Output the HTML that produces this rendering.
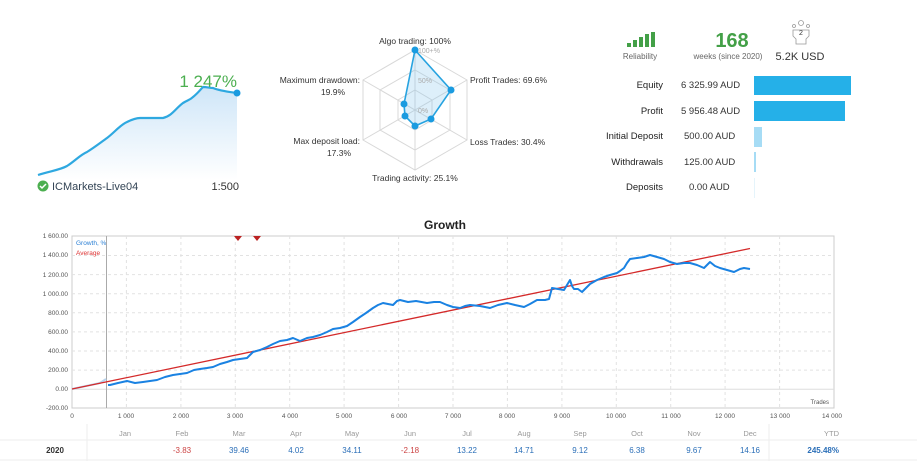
<!DOCTYPE html>
<html><head><meta charset="utf-8"><style>
body{margin:0;width:917px;height:461px;background:#fff;overflow:hidden;font-family:"Liberation Sans","DejaVu Sans",sans-serif;}
svg{position:absolute;left:0;top:0}
</style></head><body>
<svg width="917" height="461" viewBox="0 0 917 461" font-family="Liberation Sans, DejaVu Sans, sans-serif">
<defs><linearGradient id="g1" x1="0" y1="0" x2="0" y2="1"><stop offset="0" stop-color="#cfe6f8"/><stop offset="1" stop-color="#ffffff"/></linearGradient></defs>
<!-- mini chart -->
<path d="M38,175 C50,171 60,170 67,166 C75,161 80,155 87,152 C95,147 100,143 107,138 C115,132 120,125 127,122 C133,119 137,118 140,118 L163,118 C172,116 176,108 183,103 C188,100 190,100 193,97 C198,93 200,90 203,87 C207,87 210,88 213,88 C220,91 230,92 237,93 L237,180 L38,180 Z" fill="url(#g1)"/>
<path d="M38,175 C50,171 60,170 67,166 C75,161 80,155 87,152 C95,147 100,143 107,138 C115,132 120,125 127,122 C133,119 137,118 140,118 L163,118 C172,116 176,108 183,103 C188,100 190,100 193,97 C198,93 200,90 203,87 C207,87 210,88 213,88 C220,91 230,92 237,93" fill="none" stroke="#2ea8e0" stroke-width="2.2"/>
<circle cx="237" cy="93" r="3.5" fill="#1a9be0"/>
<text x="237" y="87" font-size="17" fill="#4caf50" text-anchor="end">1 247%</text>
<circle cx="43" cy="186" r="5.5" fill="#4caf50"/><path d="M40,186 l2,2 l4,-4" stroke="#fff" stroke-width="1.5" fill="none"/>
<text x="52" y="190" font-size="11" fill="#345">ICMarkets-Live04</text>
<text x="239" y="190" font-size="11" fill="#333" text-anchor="end">1:500</text>
<!-- radar -->
<g stroke="#d8d8d8" fill="none" stroke-width="1">
<polygon points="415,50 467,80 467,140 415,170 363,140 363,80"/>
<polygon points="415,70 450,90 450,130 415,150 380,130 380,90"/>
<polygon points="415,90 432,100 432,120 415,130 398,120 398,100"/>
<path d="M415,50V170M363,80L467,140M467,80L363,140"/>
</g>
<polygon points="415,50 451,90 431,119 415,126 405,116 404,104" fill="rgba(120,190,235,0.25)" stroke="#27a3e0" stroke-width="1.6"/>
<g fill="#1a9be0"><circle cx="415" cy="50" r="3.5"/><circle cx="451" cy="90" r="3.5"/><circle cx="431" cy="119" r="3.5"/><circle cx="415" cy="126" r="3.5"/><circle cx="405" cy="116" r="3.5"/><circle cx="404" cy="104" r="3.5"/></g>
<g font-size="7" fill="#aaa"><text x="418" y="53">100+%</text><text x="418" y="83">50%</text><text x="418" y="113">0%</text></g>
<g font-size="8.5" fill="#333">
<text x="415" y="44" text-anchor="middle">Algo trading: 100%</text>
<text x="470" y="83">Profit Trades: 69.6%</text>
<text x="470" y="145">Loss Trades: 30.4%</text>
<text x="415" y="181" text-anchor="middle">Trading activity: 25.1%</text>
<text x="360" y="83" text-anchor="end">Maximum drawdown:</text>
<text x="333" y="95" text-anchor="middle">19.9%</text>
<text x="360" y="144" text-anchor="end">Max deposit load:</text>
<text x="339" y="156" text-anchor="middle">17.3%</text>
</g>
<!-- right panel -->
<g fill="#43a047"><rect x="627" y="43" width="4" height="4"/><rect x="633" y="40" width="4" height="7"/><rect x="639" y="37" width="4" height="10"/><rect x="645" y="34" width="4" height="13"/><rect x="651" y="32" width="4" height="15"/></g>
<text x="640" y="59" font-size="8" fill="#666" text-anchor="middle">Reliability</text>
<text x="732" y="47" font-size="20" font-weight="bold" fill="#43a047" text-anchor="middle">168</text>
<text x="728" y="59" font-size="8" fill="#666" text-anchor="middle">weeks (since 2020)</text>
<g stroke="#999" fill="none" stroke-width="0.8"><circle cx="801" cy="23" r="2.5"/><circle cx="794" cy="26" r="1.5"/><circle cx="808" cy="26" r="1.5"/><path d="M793,30 h16 v6 l-3,3 v5 h-10 v-5 l-3,-3z"/></g>
<text x="801" y="35" font-size="7" fill="#333" text-anchor="middle">2</text>
<text x="800" y="60" font-size="11" fill="#333" text-anchor="middle">5.2K USD</text>
<g font-size="9.5" fill="#222" text-anchor="end">
<text x="663" y="88">Equity</text><text x="663" y="114">Profit</text><text x="663" y="139">Initial Deposit</text><text x="663" y="165">Withdrawals</text><text x="663" y="190">Deposits</text></g>
<g font-size="9.5" fill="#333">
<text x="681" y="88">6 325.99 AUD</text><text x="681" y="114">5 956.48 AUD</text><text x="684" y="139">500.00 AUD</text><text x="684" y="165">125.00 AUD</text><text x="689" y="190">0.00 AUD</text></g>
<rect x="754" y="76" width="97" height="19" fill="#25b0e8"/>
<rect x="754" y="101" width="91" height="20" fill="#25b0e8"/>
<rect x="754" y="127" width="8" height="20" fill="#a6dcf5"/>
<rect x="754" y="152" width="2" height="20" fill="#a6dcf5"/>
<rect x="754" y="178" width="1" height="20" fill="#e5f4fb"/>
<!-- growth -->
<text x="445" y="229" font-size="12" font-weight="bold" fill="#222" text-anchor="middle">Growth</text>
<rect x="72" y="236" width="762" height="172" fill="#fff" stroke="#ccc"/>
<g stroke="#e2e2e2" stroke-dasharray="3,3">
<path d="M72,255.5H834M72,274.6H834M72,293.7H834M72,312.8H834M72,331.9H834M72,351H834M72,370.1H834"/>
<path d="M126.4,236V408M180.9,236V408M235.3,236V408M289.7,236V408M344.1,236V408M398.6,236V408M453,236V408M507.4,236V408M561.9,236V408M616.3,236V408M670.7,236V408M725.1,236V408M779.6,236V408"/>
</g>
<path d="M72,389.2H834" stroke="#ddd"/>
<path d="M106.5,236V408" stroke="#aaa"/>
<g font-size="6.5" fill="#555" text-anchor="end">
<text x="68" y="238">1 600.00</text><text x="68" y="257">1 400.00</text><text x="68" y="277">1 200.00</text><text x="68" y="296">1 000.00</text><text x="68" y="315">800.00</text><text x="68" y="334">600.00</text><text x="68" y="353">400.00</text><text x="68" y="372">200.00</text><text x="68" y="391">0.00</text><text x="68" y="410">-200.00</text></g>
<g font-size="6.5" fill="#555" text-anchor="middle">
<text x="72" y="418">0</text><text x="126" y="418">1 000</text><text x="181" y="418">2 000</text><text x="235" y="418">3 000</text><text x="290" y="418">4 000</text><text x="344" y="418">5 000</text><text x="399" y="418">6 000</text><text x="453" y="418">7 000</text><text x="507" y="418">8 000</text><text x="562" y="418">9 000</text><text x="616" y="418">10 000</text><text x="671" y="418">11 000</text><text x="725" y="418">12 000</text><text x="780" y="418">13 000</text><text x="832" y="418">14 000</text></g>
<text x="829" y="404" font-size="6" fill="#555" text-anchor="end">Trades</text>
<text x="76" y="245" font-size="6.5" fill="#2a7fd4">Growth, %</text>
<text x="76" y="255" font-size="6.5" fill="#d33">Average</text>
<path d="M72,389 L86,386 L100,383 L106,379" fill="none" stroke="#b8d4ee" stroke-width="2"/>
<line x1="72" y1="389" x2="750" y2="248.5" stroke="#d42a2a" stroke-width="1.3"/>
<polyline fill="none" stroke="#1a82e2" stroke-width="2" stroke-linejoin="round" points="108,385 110,385 118,383 127,381 135,383 143,382 150,381 157,380 165,377 173,375 180,374 187,373 194,370 200,369 207,368 213,367 220,364 227,362 233,360 240,359 247,358 253,352 260,350 267,347 273,344 280,341 287,340 293,338 300,341 307,338 313,337 320,335 327,332 333,329 340,328 347,326 353,322 360,317 366,313 373,308 378,305 383,303 388,304 393,305 397,301 400,300 408,302 416,301 427,303 434,302 440,302 447,305 453,307 460,308 465,306 470,305 480,306 490,308 498,305 507,303 515,305 524,307 530,304 537,300 545,300 549,299 552,288 558,289 564,290 567,285 570,280 572,286 574,289 578,289 582,292 586,288 590,284 597,280 604,277 610,275 617,273 620,271 624,268 627,263 630,259 637,258 644,257 650,255 657,257 664,259 670,262 677,264 684,263 690,263 697,265 704,268 707,265 710,262 715,266 720,268 727,270 734,272 740,269 744,268 750,269"/>
<g fill="#b22"><path d="M234,236 h8 l-4,5z"/><path d="M253,236 h8 l-4,5z"/></g>
<!-- table -->
<path d="M0,440H917M0,460H917" stroke="#eee"/>
<path d="M87,424V461M769,424V461" stroke="#eee"/>
<g font-size="7.5" fill="#999" text-anchor="middle">
<text x="125" y="436">Jan</text><text x="182" y="436">Feb</text><text x="239" y="436">Mar</text><text x="296" y="436">Apr</text><text x="352" y="436">May</text><text x="410" y="436">Jun</text><text x="467" y="436">Jul</text><text x="524" y="436">Aug</text><text x="580" y="436">Sep</text><text x="637" y="436">Oct</text><text x="694" y="436">Nov</text><text x="750" y="436">Dec</text></g>
<text x="839" y="436" font-size="7.5" fill="#999" text-anchor="end">YTD</text>
<text x="55" y="453" font-size="8" font-weight="bold" fill="#333" text-anchor="middle">2020</text>
<g font-size="8" text-anchor="middle">
<text x="182" y="453" fill="#c44">-3.83</text><text x="239" y="453" fill="#2b6fb8">39.46</text><text x="296" y="453" fill="#2b6fb8">4.02</text><text x="352" y="453" fill="#2b6fb8">34.11</text><text x="410" y="453" fill="#c44">-2.18</text><text x="467" y="453" fill="#2b6fb8">13.22</text><text x="524" y="453" fill="#2b6fb8">14.71</text><text x="580" y="453" fill="#2b6fb8">9.12</text><text x="637" y="453" fill="#2b6fb8">6.38</text><text x="694" y="453" fill="#2b6fb8">9.67</text><text x="750" y="453" fill="#2b6fb8">14.16</text></g>
<text x="839" y="453" font-size="8" font-weight="bold" fill="#2b6fb8" text-anchor="end">245.48%</text>
</svg>
</body></html>
